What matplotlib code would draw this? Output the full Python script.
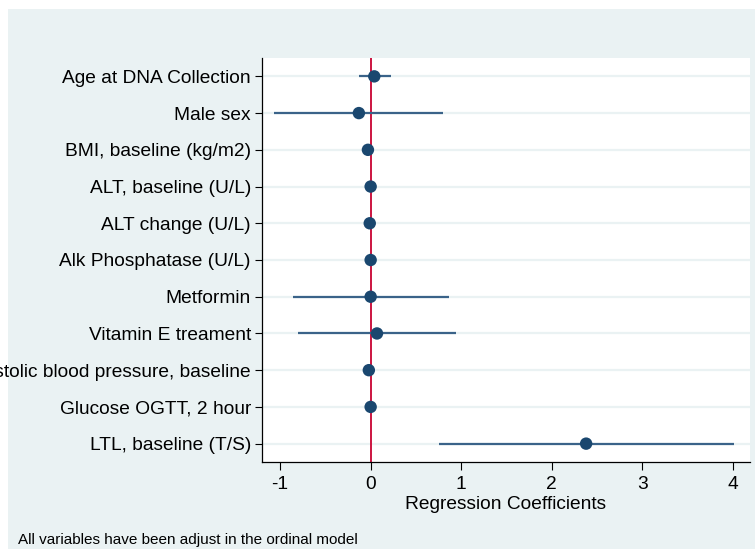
import matplotlib
matplotlib.use("Agg")
import matplotlib.pyplot as plt
from matplotlib.patches import Rectangle

labels = ["Age at DNA Collection", "Male sex", "BMI, baseline (kg/m2)",
          "ALT, baseline (U/L)", "ALT change (U/L)", "Alk Phosphatase (U/L)",
          "Metformin", "Vitamin E treament", "Systolic blood pressure, baseline",
          "Glucose OGTT, 2 hour", "LTL, baseline (T/S)"]
coef = [0.04, -0.13, -0.03, 0.00, -0.01, 0.00, 0.00, 0.07, -0.02, 0.00, 2.38]
lower = [-0.13, -1.07, -0.08, -0.01, -0.02, -0.01, -0.86, -0.80, -0.03, -0.01, 0.75]
upper = [0.22, 0.80, 0.03, 0.01, 0.00, 0.01, 0.86, 0.94, -0.01, 0.01, 4.01]
xticks = [-1, 0, 1, 2, 3, 4]

plt.rcParams['font.family'] = ['Liberation Sans', 'DejaVu Sans']

W, H = 755, 551
fig = plt.figure(figsize=(W / 100, H / 100), dpi=100)
fig.patch.set_facecolor('white')
bg = '#EAF2F3'
fig.patches.append(Rectangle((8 / W, 1 - 549 / H), 1 - 8 / W, (549 - 9) / H,
                             transform=fig.transFigure, facecolor=bg,
                             edgecolor='none', zorder=0))

left, right, top, bottom = 262, 750, 58, 462
ax = fig.add_axes([left / W, 1 - bottom / H, (right - left) / W, (bottom - top) / H])
ax.set_zorder(2)
ax.set_facecolor('white')

n = len(labels)
ypos = list(range(n))
navy = '#1A476F'
for y in ypos:
    ax.axhline(y, color=bg, lw=1.6, zorder=1)
ax.axvline(0, color='#CC1440', lw=1.4, zorder=2)
ax.hlines(ypos, lower, upper, color='#3A6389', lw=1.6, zorder=3)
ax.scatter(coef, ypos, s=80, color=navy, zorder=4, edgecolors='none')

ax.set_ylim(n - 0.5, -0.5)
ax.set_xlim(-1.2, 4.19)
ax.set_yticks(ypos)
ax.set_yticklabels(labels, fontsize=13.8)
ax.set_xticks(xticks)
ax.set_xticklabels([str(t) for t in xticks], fontsize=13.8)
ax.tick_params(axis='y', length=5, width=0.8, pad=3)
ax.tick_params(axis='x', length=6, width=0.8, pad=4)
for s in ['top', 'right']:
    ax.spines[s].set_visible(False)
for s in ['left', 'bottom']:
    ax.spines[s].set_linewidth(0.9)
ax.set_xlabel("Regression Coefficients", fontsize=13.8, labelpad=2)

fig.text(18 / W, 1 - 540 / H, "All variables have been adjust in the ordinal model",
         fontsize=11, va='center', ha='left', zorder=3)

fig.savefig("out.png", dpi=100, facecolor=fig.get_facecolor())
